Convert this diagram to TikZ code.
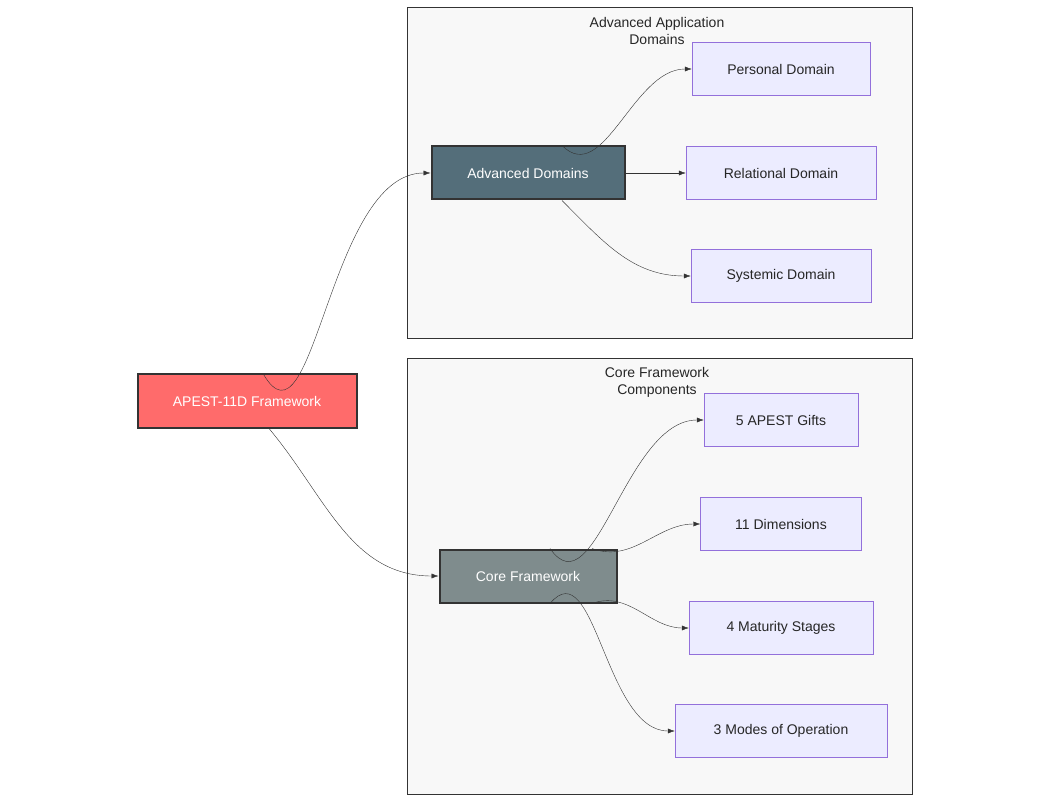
\documentclass[tikz,border=0pt]{standalone}
\usepackage{fontspec}
\setmainfont{Liberation Sans}
\usetikzlibrary{arrows.meta,positioning}
\definecolor{leaffill}{HTML}{ECECFF}
\definecolor{leafline}{HTML}{9370DB}
\definecolor{clusterfill}{HTML}{F8F8F8}
\begin{document}
\begin{tikzpicture}[x=1pt,y=-1pt,font=\fontsize{14}{17}\selectfont,
  leaf/.style={draw=leafline,fill=leaffill,minimum height=53pt,text=black!85},
  main/.style={draw=black!80,line width=2pt,minimum height=53pt,text=white},
  cluster/.style={draw=black!80,fill=clusterfill,line width=1pt},
  edge/.style={draw=black!80,-{Latex[length=7pt,width=5pt]}}]
\useasboundingbox (0,0) rectangle (1050,802);
% clusters
\draw[cluster] (407,8) rectangle (912,339);
\draw[cluster] (407,359) rectangle (912,794);
\node[align=center,text=black!85] (advlabel) at (657,31) {Advanced Application\\Domains};
\node[align=center,text=black!85] (corelabel) at (657,382) {Core Framework\\Components};
% main nodes
\node[main,fill={rgb,255:red,255;green,107;blue,107},minimum width=219pt] (apest) at (247,401) {APEST-11D Framework};
\node[main,fill={rgb,255:red,84;green,110;blue,122},minimum width=193pt] (adv) at (528,173) {Advanced Domains};
\node[main,fill={rgb,255:red,127;green,140;blue,141},minimum width=177pt] (core) at (528,576) {Core Framework};
% leaves
\node[leaf,minimum width=178pt] (personal) at (781,69) {Personal Domain};
\node[leaf,minimum width=190pt] (relational) at (781,173) {Relational Domain};
\node[leaf,minimum width=180pt] (systemic) at (781,276) {Systemic Domain};
\node[leaf,minimum width=154pt] (gifts) at (781,420) {5 APEST Gifts};
\node[leaf,minimum width=161pt] (dims) at (781,524) {11 Dimensions};
\node[leaf,minimum width=184pt] (stages) at (781,628) {4 Maturity Stages};
\node[leaf,minimum width=212pt] (modes) at (781,731) {3 Modes of Operation};
% edges
\draw[edge] ([xshift=16pt]apest.north) to[out=-60,in=180] (adv.west);
\draw[edge] ([xshift=22pt]apest.south) to[out=-50,in=180] (core.west);
\draw[edge] ([xshift=34pt]adv.north) to[out=-45,in=180] (personal.west);
\draw[edge] (adv.east) -- (relational.west);
\draw[edge] ([xshift=34pt]adv.south) to[out=-45,in=180] (systemic.west);
\draw[edge] ([xshift=22pt]core.north) to[out=-55,in=180] (gifts.west);
\draw[edge] ([xshift=64pt]core.north) to[out=-20,in=180] (dims.west);
\draw[edge] ([xshift=64pt]core.south) to[out=20,in=180] (stages.west);
\draw[edge] ([xshift=22pt]core.south) to[out=50,in=180] (modes.west);
\end{tikzpicture}
\end{document}
